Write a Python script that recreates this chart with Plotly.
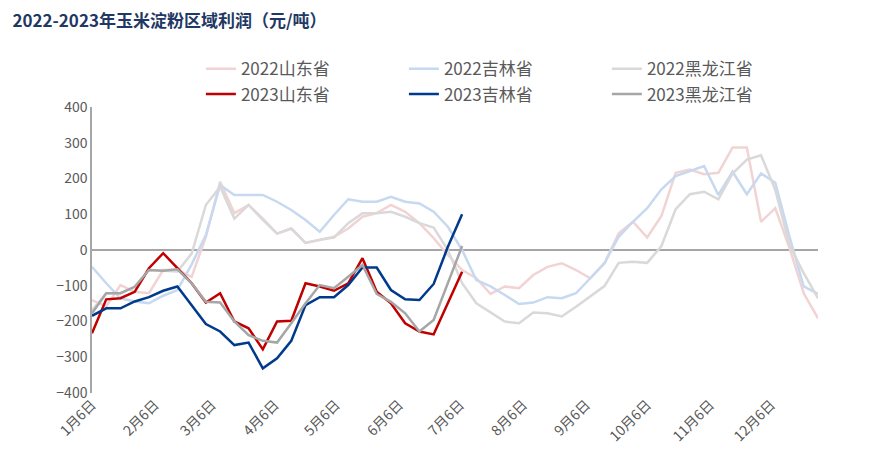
import datetime as dt
import plotly.graph_objects as go

# weekly dates (same calendar used for both years)
dates = [dt.date(2022, 1, 6) + dt.timedelta(days=7 * i) for i in range(52)]

sd_2022 = [-140, -158, -98, -117, -121, -56, -56, -75, 37, 191, 103, 126, 88, 46, 60, 20,
           28, 37, 60, 93, 103, 126, 107, 75, 33, -14, -56, -79, -123, -102, -107, -70,
           -47, -37, -56, -79, -37, 47, 79, 35, 95, 216, 225, 212, 216, 287, 287, 79,
           117, 5, -121, -191]
jl_2022 = [-47, -93, -135, -144, -149, -128, -112, -40, 42, 182, 154, 154, 154, 135, 112, 84,
           51, 98, 142, 135, 135, 149, 135, 130, 107, 65, 0, -84, -102, -126, -151, -147,
           -132, -135, -121, -79, -37, 37, 79, 117, 170, 207, 222, 235, 154, 219, 156, 214,
           188, 37, -102, -123]
hlj_2022 = [-168, -121, -121, -103, -56, -58, -60, -10, 126, 177, 88, 126, 84, 46, 60, 20,
            29, 35, 75, 103, 103, 107, 93, 75, 63, 0, -93, -149, -175, -200, -205, -175,
            -177, -186, -159, -130, -101, -36, -33, -36, 11, 114, 156, 163, 142, 214, 253, 265,
            168, 14, -65, -135]
sd_2023 = [-233, -138, -135, -117, -51, -9, -51, -93, -147, -121, -200, -219, -278, -200, -198,
           -93, -102, -114, -93, -23, -117, -149, -205, -228, -236, -149, -61]
jl_2023 = [-184, -163, -163, -144, -132, -114, -102, -156, -207, -228, -266, -259, -331, -303,
           -254, -154, -132, -132, -98, -49, -49, -112, -138, -140, -95, 9, 100]
hlj_2023 = [-177, -121, -121, -103, -56, -58, -54, -93, -145, -147, -200, -238, -254, -259,
            -205, -149, -98, -107, -75, -42, -123, -145, -177, -228, -196, -93, 11]

tick_dates = [dt.date(2022, m, 6) for m in range(1, 13)]
tick_text = [f"{m}月6日" for m in range(1, 13)]

series = [
    ("2022山东省", sd_2022, "#f2d3d3"),
    ("2022吉林省", jl_2022, "#c6d9f1"),
    ("2022黑龙江省", hlj_2022, "#d9d9d9"),
    ("2023山东省", sd_2023, "#c00000"),
    ("2023吉林省", jl_2023, "#003a8c"),
    ("2023黑龙江省", hlj_2023, "#a6a6a6"),
]

fig = go.Figure()
for name, vals, color in series:
    fig.add_trace(go.Scatter(x=dates[:len(vals)], y=vals, name=name, mode="lines",
                             line=dict(color=color, width=2.5)))

fig.update_layout(
    width=886, height=472,
    paper_bgcolor="white", plot_bgcolor="white",
    margin=dict(l=84, r=76, t=99, b=87),
    font=dict(family="Noto Sans CJK SC", size=14, color="#595959"),
    title=dict(text="<b>2022-2023年玉米淀粉区域利润（元/吨）</b>", x=0.005, y=0.985,
               font=dict(size=17, color="#1f3864")),
    legend=dict(orientation="h", x=0.15, xanchor="left", y=1.195, yanchor="top",
                entrywidth=158, entrywidthmode="pixels", font=dict(size=17, color="#595959")),
    showlegend=True,
)
fig.update_xaxes(range=[dates[0], dates[-1]], tickvals=tick_dates, ticktext=tick_text,
                 tickangle=-45, showgrid=False, showline=False, zeroline=False,
                 ticks="", tickfont=dict(size=14))
fig.update_yaxes(range=[-400, 400], dtick=100, showgrid=False, zeroline=True,
                 zerolinecolor="#a6a6a6", zerolinewidth=1.5, showline=True,
                 linecolor="#a6a6a6", linewidth=1.5, tickfont=dict(size=14))

fig.write_html("out.html")
